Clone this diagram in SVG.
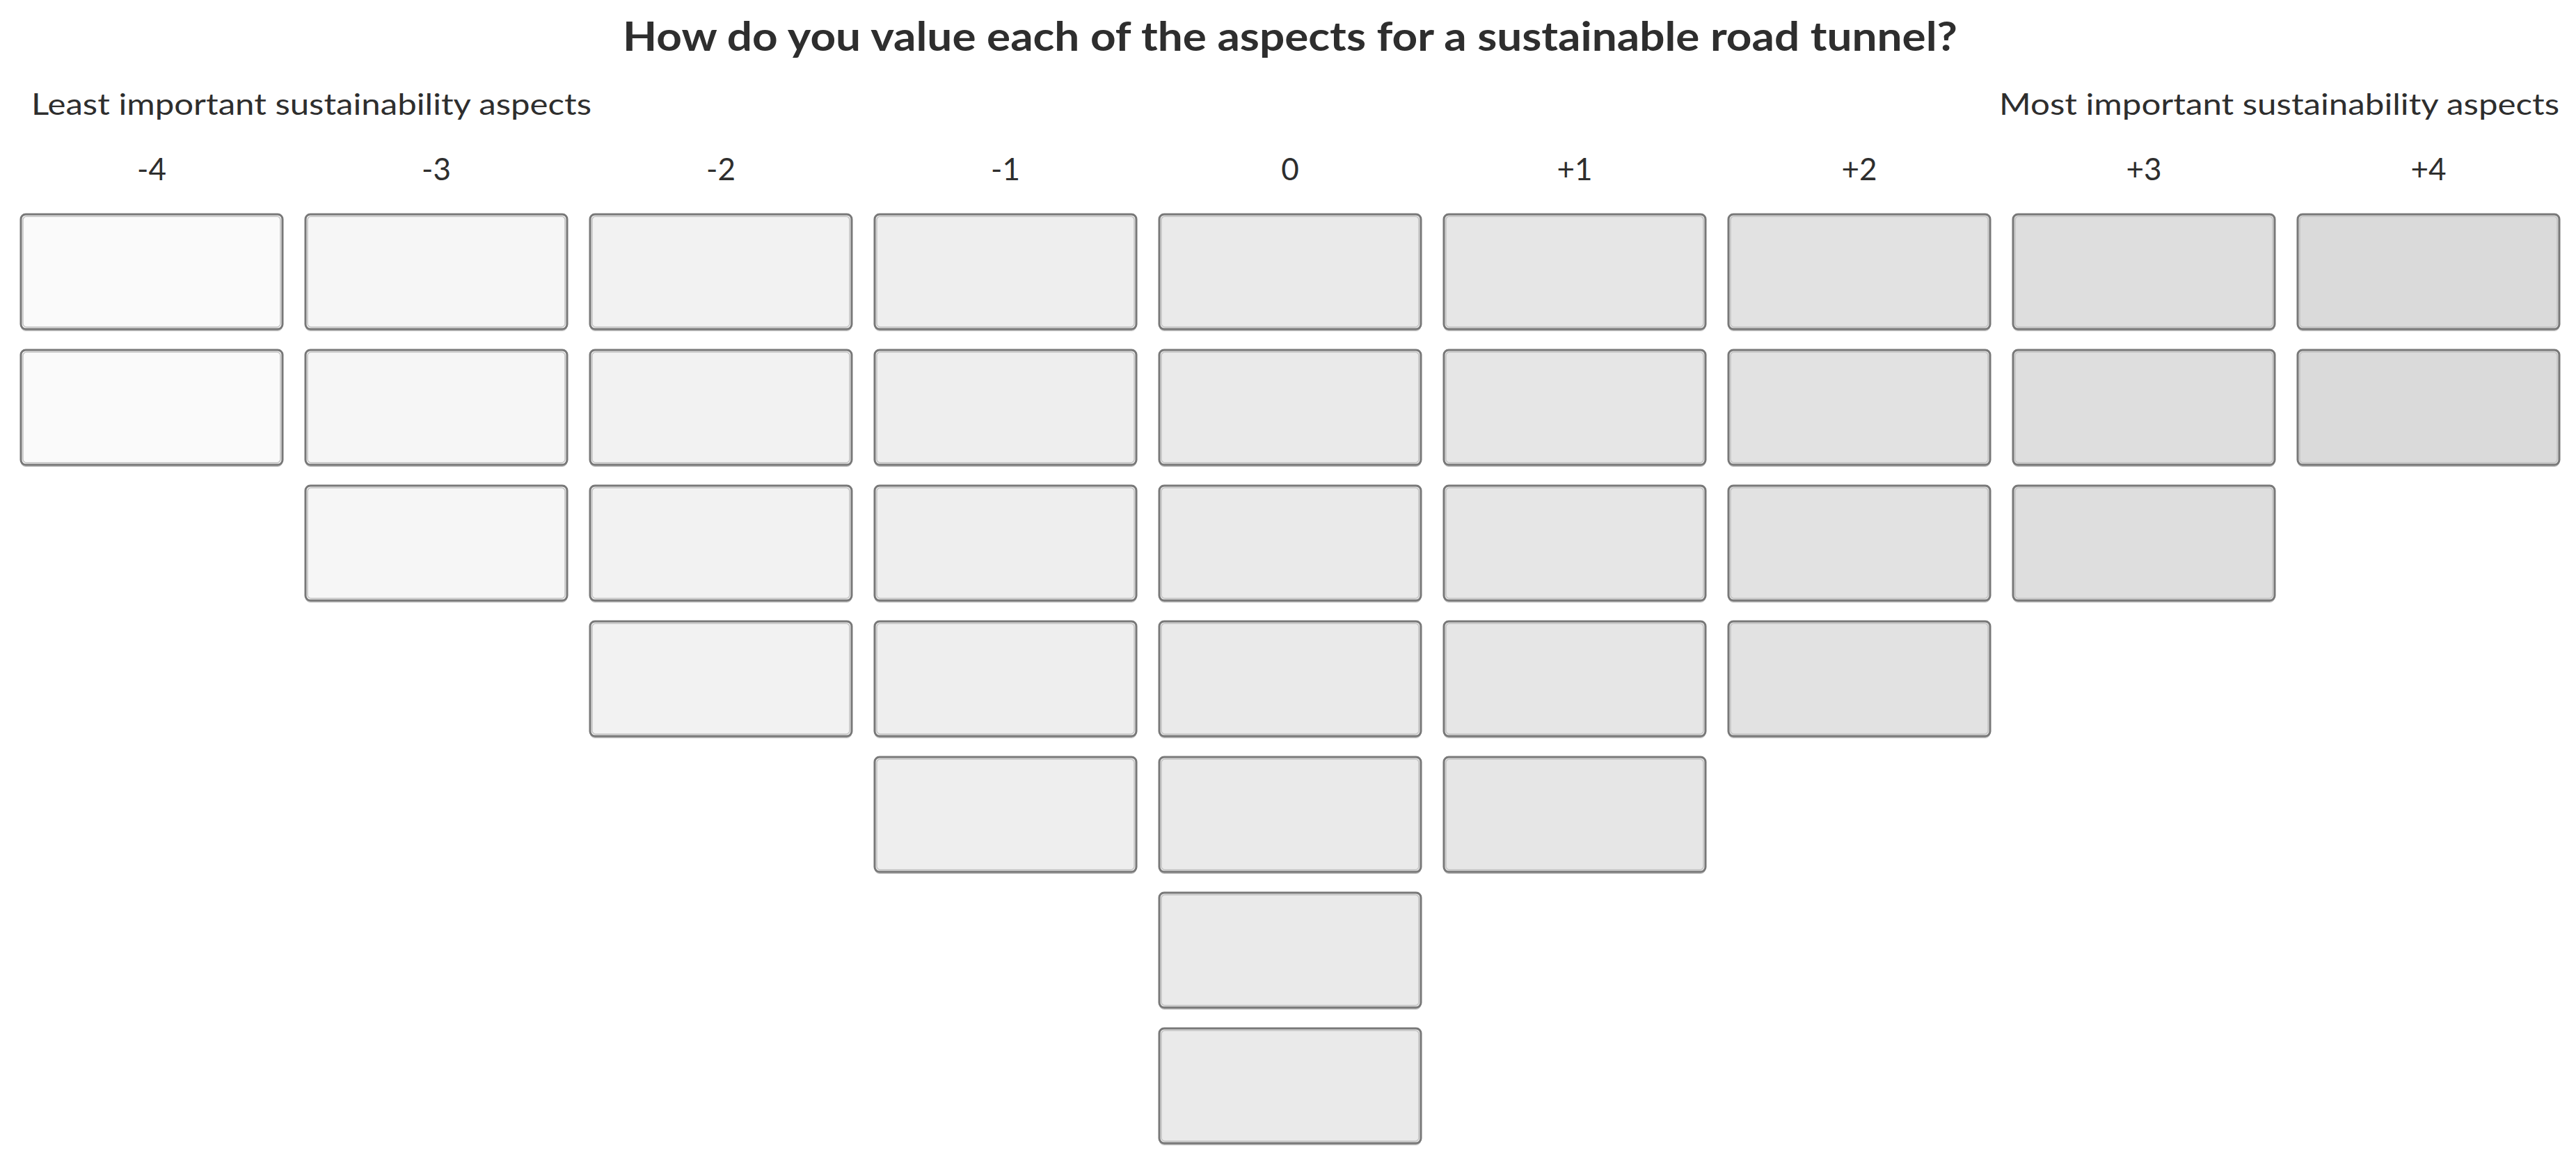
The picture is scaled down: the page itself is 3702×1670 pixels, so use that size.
<svg xmlns="http://www.w3.org/2000/svg" width="3702" height="1670" viewBox="0 0 3702 1670">
<style>
text{font-family:Lato,"Open Sans","Liberation Sans",sans-serif;fill:#2e2e2e}
.title{font-size:58px;font-weight:bold;text-anchor:middle}
.side{font-size:42px}
.num{font-size:44px;text-anchor:middle}
.c0{fill:#fafafa}.c1{fill:#f6f6f6}.c2{fill:#f2f2f2}.c3{fill:#eeeeee}.c4{fill:#eaeaea}.c5{fill:#e6e6e6}.c6{fill:#e2e2e2}.c7{fill:#dedede}.c8{fill:#dadada}
</style>
<rect width="3702" height="1670" fill="#ffffff"/>
<g id="labels">
<text class="title" x="1854" y="73" textLength="1918" lengthAdjust="spacingAndGlyphs">How do you value each of the aspects for a sustainable road tunnel?</text>
<text class="side" x="45" y="165" textLength="805" lengthAdjust="spacingAndGlyphs">Least important sustainability aspects</text>
<text class="side" x="2873" y="165" textLength="805" lengthAdjust="spacingAndGlyphs">Most important sustainability aspects</text>
<text class="num" x="218" y="259">-4</text>
<text class="num" x="627" y="259">-3</text>
<text class="num" x="1036" y="259">-2</text>
<text class="num" x="1445" y="259">-1</text>
<text class="num" x="1854" y="259">0</text>
<text class="num" x="2263" y="259">+1</text>
<text class="num" x="2672" y="259">+2</text>
<text class="num" x="3081" y="259">+3</text>
<text class="num" x="3490" y="259">+4</text>
</g>
<defs>
<g id="cell">
<rect fill="#c4c4c4" x="0" y="3" width="376" height="165" rx="7"/>
<rect stroke="#787878" stroke-width="3" x="0" y="0" width="376" height="165" rx="7"/>
<rect fill="none" stroke="#c2c2c2" stroke-width="1.5" x="3" y="3" width="370" height="159" rx="5"/>
</g>
</defs>
<g id="connectors"/>
<g id="col-m4" class="c0">
<g id="m4-r1"><use href="#cell" x="30" y="308"/></g>
<g id="m4-r2"><use href="#cell" x="30" y="503"/></g>
</g>
<g id="col-m3" class="c1">
<g id="m3-r1"><use href="#cell" x="439" y="308"/></g>
<g id="m3-r2"><use href="#cell" x="439" y="503"/></g>
<g id="m3-r3"><use href="#cell" x="439" y="698"/></g>
</g>
<g id="col-m2" class="c2">
<g id="m2-r1"><use href="#cell" x="848" y="308"/></g>
<g id="m2-r2"><use href="#cell" x="848" y="503"/></g>
<g id="m2-r3"><use href="#cell" x="848" y="698"/></g>
<g id="m2-r4"><use href="#cell" x="848" y="893"/></g>
</g>
<g id="col-m1" class="c3">
<g id="m1-r1"><use href="#cell" x="1257" y="308"/></g>
<g id="m1-r2"><use href="#cell" x="1257" y="503"/></g>
<g id="m1-r3"><use href="#cell" x="1257" y="698"/></g>
<g id="m1-r4"><use href="#cell" x="1257" y="893"/></g>
<g id="m1-r5"><use href="#cell" x="1257" y="1088"/></g>
</g>
<g id="col-0" class="c4">
<g id="z-r1"><use href="#cell" x="1666" y="308"/></g>
<g id="z-r2"><use href="#cell" x="1666" y="503"/></g>
<g id="z-r3"><use href="#cell" x="1666" y="698"/></g>
<g id="z-r4"><use href="#cell" x="1666" y="893"/></g>
<g id="z-r5"><use href="#cell" x="1666" y="1088"/></g>
<g id="z-r6"><use href="#cell" x="1666" y="1283"/></g>
<g id="z-r7"><use href="#cell" x="1666" y="1478"/></g>
</g>
<g id="col-p1" class="c5">
<g id="p1-r1"><use href="#cell" x="2075" y="308"/></g>
<g id="p1-r2"><use href="#cell" x="2075" y="503"/></g>
<g id="p1-r3"><use href="#cell" x="2075" y="698"/></g>
<g id="p1-r4"><use href="#cell" x="2075" y="893"/></g>
<g id="p1-r5"><use href="#cell" x="2075" y="1088"/></g>
</g>
<g id="col-p2" class="c6">
<g id="p2-r1"><use href="#cell" x="2484" y="308"/></g>
<g id="p2-r2"><use href="#cell" x="2484" y="503"/></g>
<g id="p2-r3"><use href="#cell" x="2484" y="698"/></g>
<g id="p2-r4"><use href="#cell" x="2484" y="893"/></g>
</g>
<g id="col-p3" class="c7">
<g id="p3-r1"><use href="#cell" x="2893" y="308"/></g>
<g id="p3-r2"><use href="#cell" x="2893" y="503"/></g>
<g id="p3-r3"><use href="#cell" x="2893" y="698"/></g>
</g>
<g id="col-p4" class="c8">
<g id="p4-r1"><use href="#cell" x="3302" y="308"/></g>
<g id="p4-r2"><use href="#cell" x="3302" y="503"/></g>
</g>
</svg>
